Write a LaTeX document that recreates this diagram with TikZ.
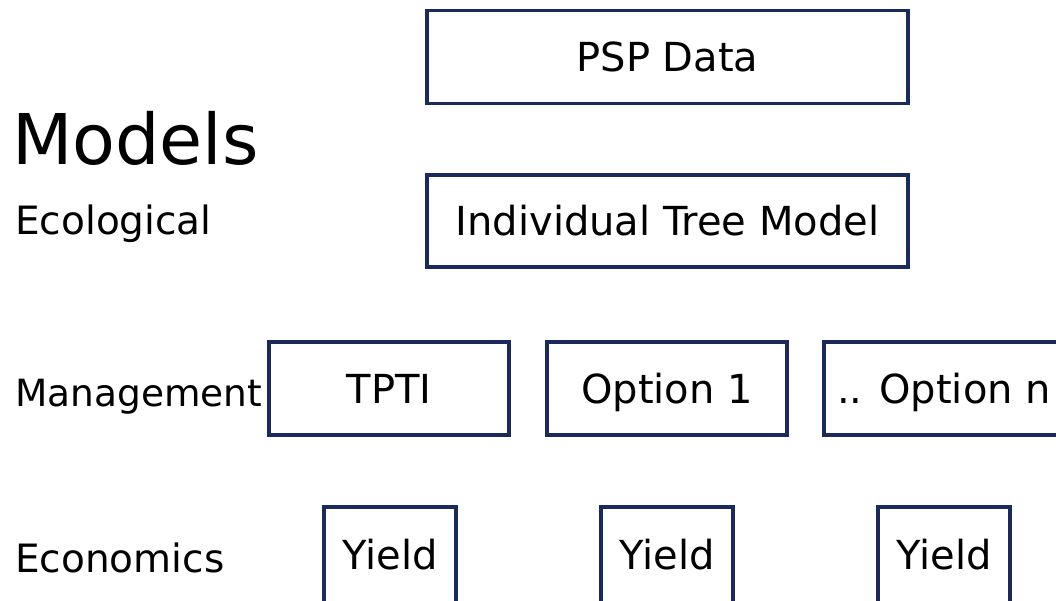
\documentclass[tikz,border=0pt]{standalone}
\usepackage{fontspec}
\setmainfont{DejaVu Sans}
\definecolor{boxline}{HTML}{1B2A5C}
\begin{document}
\begin{tikzpicture}[x=1pt,y=-1pt,
  box/.style={draw=boxline,line width=3.2pt,fill=white,inner sep=0pt,
    text height=29.2pt,text depth=0pt,
    font=\fontsize{40}{44}\selectfont},
  lbl/.style={anchor=base west,inner sep=0pt,font=\fontsize{39}{44}\selectfont}]
\useasboundingbox (0,0) rectangle (1056,601);
\clip (0,0) rectangle (1056,601);
% data and ecological model
\node[box,minimum width=481pt,minimum height=93pt] (psp) at (667.5,57) {PSP Data};
\node[box,minimum width=481pt,minimum height=92pt] (itm) at (667.5,221) {Individual Tree Model};
% management options
\node[box,minimum width=240pt,minimum height=93pt] (tpti) at (389,388.5) {TPTI};
\node[box,minimum width=240pt,minimum height=93pt] (opt1) at (667,388.5) {Option 1};
\node[box,minimum width=240pt,minimum height=93pt] (optn) at (944,388.5) {.. Option n};
% economic yields
\node[box,minimum width=132pt,minimum height=100pt,text depth=4pt] (y1) at (390,557) {Yield};
\node[box,minimum width=132pt,minimum height=100pt,text depth=4pt] (y2) at (667,557) {Yield};
\node[box,minimum width=132pt,minimum height=100pt,text depth=4pt] (y3) at (944,557) {Yield};
% row labels
\node[lbl,font=\fontsize{70}{76}\selectfont] (models) at (12,165) {Models};
\node[lbl] (eco) at (15,235) {Ecological};
\node[lbl,font=\fontsize{37.5}{42}\selectfont] (mgmt) at (15,406) {Management};
\node[lbl] (econ) at (15,572) {Economics};
\end{tikzpicture}
\end{document}
